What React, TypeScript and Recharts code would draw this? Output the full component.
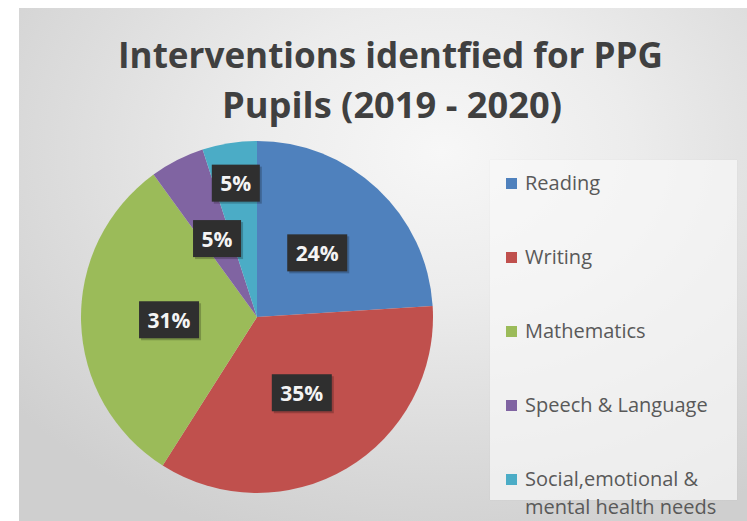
import React from 'react';
import { PieChart, Pie, Cell, Legend } from 'recharts';

const categories = [
  'Reading',
  'Writing',
  'Mathematics',
  'Speech & Language',
  'Social,emotional & mental health needs'
];
const shares = [24, 35, 31, 5, 5];
const sliceColors = ['#4f81bd', '#c0504d', '#9bbb59', '#8064a2', '#4bacc6'];
const legendLines = [
  ['Reading'],
  ['Writing'],
  ['Mathematics'],
  ['Speech & Language'],
  ['Social,emotional &', 'mental health needs']
];
const titleLines = ['Interventions identfied for PPG', 'Pupils (2019 - 2020)'];

const data = categories.map((name, i) => ({ name, value: shares[i] }));

const RAD = Math.PI / 180;

const renderLabel = (props: any) => {
  const { cx, cy, midAngle, outerRadius, percent, index } = props;
  // Excel pushed the last small slice label further out
  const r = outerRadius * (index === 4 ? 0.77 : 0.5);
  const x = cx + r * Math.cos(-midAngle * RAD);
  const y = cy + r * Math.sin(-midAngle * RAD);
  const text = `${Math.round(percent * 100)}%`;
  const w = 21 * (0.57 * (text.length - 1) + 0.86) + 18;
  const h = 37;
  return (
    <g>
      <rect x={x - w / 2 + 2} y={y - h / 2 + 2} width={w} height={h} fill="rgba(0,0,0,0.22)" />
      <rect x={x - w / 2} y={y - h / 2} width={w} height={h} fill="#2f2f2f" />
      <text
        x={x}
        y={y}
        fill="#f4f4f4"
        textAnchor="middle"
        dominantBaseline="central"
        fontSize={21}
        fontWeight={700}
        fontFamily="'Open Sans', sans-serif"
      >
        {text}
      </text>
    </g>
  );
};

// legend drawn in data order (recharts would sort it by name)
const renderLegend = () => (
  <div
    style={{
      width: 247,
      height: 340,
      background: 'rgba(248,248,248,0.7)',
      boxShadow: '0 0 1px rgba(0,0,0,0.08)',
      paddingTop: 9,
      boxSizing: 'border-box'
    }}
  >
    {legendLines.map((lines, i) => (
      <div key={`leg-${i}`} style={{ display: 'flex', alignItems: 'flex-start', height: 74 }}>
        <span
          style={{
            display: 'inline-block',
            width: 11,
            height: 11,
            background: sliceColors[i],
            marginTop: 9,
            marginLeft: 16,
            marginRight: 8,
            flex: 'none'
          }}
        />
        <div
          style={{
            fontFamily: "'Open Sans', sans-serif",
            fontSize: 20,
            lineHeight: '28px',
            color: '#595959',
            whiteSpace: 'nowrap'
          }}
        >
          {lines.map((ln, j) => (
            <div key={j}>{ln}</div>
          ))}
        </div>
      </div>
    ))}
  </div>
);

export default function App() {
  return (
    <div
      style={{
        position: 'absolute',
        left: 0,
        top: 0,
        width: 747,
        height: 521,
        background: '#ffffff',
        overflow: 'hidden'
      }}
    >
      <div
        style={{
          position: 'absolute',
          left: 19,
          top: 8,
          width: 728,
          height: 513,
          background:
            'radial-gradient(ellipse 75% 80% at 58% 28%, #f7f7f7 0%, #ececec 35%, #dcdcdc 70%, #cfcfcf 100%)'
        }}
      />
      <div style={{ position: 'absolute', left: 0, top: 0 }}>
        <PieChart width={747} height={521} margin={{ top: 0, right: 0, bottom: 0, left: 0 }}>
          <Pie
            data={data}
            dataKey="value"
            nameKey="name"
            cx={257}
            cy={317}
            outerRadius={176}
            startAngle={90}
            endAngle={-270}
            stroke="none"
            label={renderLabel}
            labelLine={false}
            isAnimationActive={false}
          >
            {data.map((d, i) => (
              <Cell key={`cell-${i}`} fill={sliceColors[i]} />
            ))}
          </Pie>
          <Legend
            layout="vertical"
            align="right"
            verticalAlign="top"
            content={renderLegend}
            wrapperStyle={{ left: 490, top: 160, width: 247, height: 340 }}
          />
        </PieChart>
      </div>
      <svg
        width={747}
        height={140}
        style={{ position: 'absolute', left: 0, top: 0, pointerEvents: 'none' }}
      >
        <text
          x={390.5}
          y={68}
          textAnchor="middle"
          textLength={545}
          lengthAdjust="spacingAndGlyphs"
          fontSize={36}
          fontWeight={700}
          fontFamily="'Open Sans', sans-serif"
          fill="#404040"
        >
          {titleLines[0]}
        </text>
        <text
          x={392}
          y={118}
          textAnchor="middle"
          textLength={340}
          lengthAdjust="spacingAndGlyphs"
          fontSize={36}
          fontWeight={700}
          fontFamily="'Open Sans', sans-serif"
          fill="#404040"
        >
          {titleLines[1]}
        </text>
      </svg>
    </div>
  );
}
